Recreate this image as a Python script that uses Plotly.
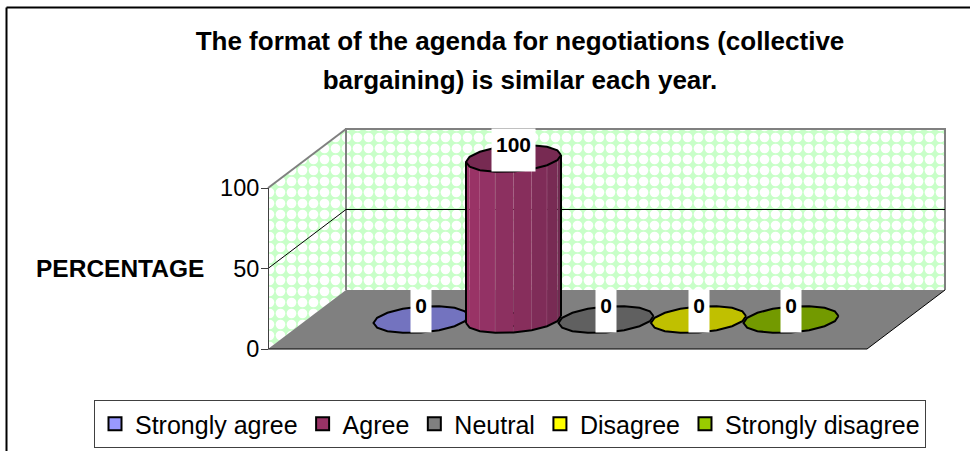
import math
import plotly.graph_objects as go

# ---- data ----
categories = ["Strongly agree", "Agree", "Neutral", "Disagree", "Strongly disagree"]
values = [0, 100, 0, 0, 0]
y_ticks = [0, 50, 100]
title_lines = ["The format of the agenda for negotiations (collective",
               "bargaining) is similar each year."]
y_label = "PERCENTAGE"

# ---- styles ----
legend_colors = ["#9999FF", "#993366", "#808080", "#FFFF00", "#99CC00"]
top_colors = ["#7373BF", "#772A52", "#606060", "#C0C000", "#739A00"]
facet_colors = ["#9C3567", "#993366", "#933265", "#8C3060", "#872E5C", "#7F2C58", "#782B54", "#702A50"]
FONT = "Liberation Sans, Arial, sans-serif"
W, H = 970, 451

# calibration of the oblique projection
PX_SLOT, PX_ORIGIN = 92.5, 382.0   # pixels per bar slot, pixel of slot 0 at front
PX_UNIT, PX_BASE = 1.61, 349.0     # pixels per percent, pixel of 0 %
DEPTH_X, DEPTH_Y = 78 / PX_SLOT, 59 / PX_UNIT
S_LEFT, S_RIGHT = (268 - PX_ORIGIN) / PX_SLOT, (867 - PX_ORIGIN) / PX_SLOT
Y_TOP = max(y_ticks)


def proj(s, v, d):
    return s + d * DEPTH_X, v + d * DEPTH_Y


def polygon(pts):
    xs, ys = zip(*pts)
    return list(xs) + [xs[0]], list(ys) + [ys[0]]


def rim(i, v, t):
    cx, cy = proj(i, v, 0.5)
    c = math.cos(t)
    return cx + 0.5135 * c, cy + 8.07 * math.sin(t) + 2.17 * c


def area(pts, fill, line=None, width=0, pattern=None):
    x, y = polygon(pts)
    return go.Scatter(x=x, y=y, mode="lines", fill="toself", fillcolor=fill,
                      fillpattern=pattern, showlegend=False, hoverinfo="skip",
                      line=dict(color=line or "rgba(0,0,0,0)", width=width))


def edge(pts, color, width):
    xs, ys = zip(*pts)
    return go.Scatter(x=list(xs), y=list(ys), mode="lines", showlegend=False,
                      hoverinfo="skip", line=dict(color=color, width=width))


fig = go.Figure()
pat = dict(shape=".", bgcolor="#C8FFC8", fgcolor="#FFFFFF", size=11, solidity=0.6, fillmode="replace")

# walls and floor
fig.add_trace(area([proj(S_LEFT, 0, 1), proj(S_RIGHT, 0, 1), proj(S_RIGHT, Y_TOP, 1), proj(S_LEFT, Y_TOP, 1)],
                   "#CCFFCC", pattern=pat))
fig.add_trace(area([proj(S_LEFT, 0, 0), proj(S_LEFT, 0, 1), proj(S_LEFT, Y_TOP, 1), proj(S_LEFT, Y_TOP, 0)],
                   "#CCFFCC", pattern=pat))
fig.add_trace(area([proj(S_LEFT, 0, 0), proj(S_RIGHT, 0, 0), proj(S_RIGHT, 0, 1), proj(S_LEFT, 0, 1)], "#808080"))
fig.add_trace(edge([proj(S_LEFT, 0, 1), proj(S_LEFT, Y_TOP, 1), proj(S_RIGHT, Y_TOP, 1), proj(S_RIGHT, 0, 1)], "#808080", 2))
fig.add_trace(edge([proj(S_LEFT, Y_TOP, 0), proj(S_LEFT, Y_TOP, 1)], "#808080", 2))
fig.add_trace(edge([proj(S_LEFT, 50, 0), proj(S_LEFT, 50, 1), proj(S_RIGHT, 50, 1)], "#000000", 1))
fig.add_trace(edge([proj(S_LEFT, 0, 0), proj(S_RIGHT, 0, 0), proj(S_RIGHT, 0, 1)], "#000000", 1))

# legend keys (hidden under the marks of each series)
for i, (name, v) in enumerate(zip(categories, values)):
    x0, y0 = proj(i, 0, 0.5)
    fig.add_trace(go.Scatter(x=[x0], y=[y0], mode="markers", name=name, hoverinfo="skip",
                             marker=dict(symbol="square", size=13, color=legend_colors[i],
                                         line=dict(color="#000000", width=2))))

# series, tallest last
STEPS = 16
for i in sorted(range(len(values)), key=lambda k: values[k]):
    v = values[i]
    ring = [2 * math.pi * k / STEPS for k in range(STEPS)]
    if v > 0:
        n = len(facet_colors)
        for k in range(n):
            t0, t1 = math.pi * (1 - k / n), math.pi * (1 - (k + 1) / n)
            # front half of the rim runs through negative sine
            fig.add_trace(area([rim(i, 0, -t0), rim(i, 0, -t1), rim(i, v, -t1), rim(i, v, -t0)],
                               facet_colors[k]))
            if k in (1, 2, 4, 5):
                fig.add_trace(edge([rim(i, 0, -t1), rim(i, v, -t1)], "rgba(205,140,175,0.4)", 1))
        fig.add_trace(edge([rim(i, v, math.pi), rim(i, 0, math.pi)], "#000000", 2))
        fig.add_trace(edge([rim(i, 0, -math.pi + math.pi * k / n) for k in range(n + 1)], "#000000", 2))
        fig.add_trace(edge([rim(i, v, 0), rim(i, 0, 0)], "#000000", 2))
    fig.add_trace(area([rim(i, v, t) for t in ring], top_colors[i], "#000000", 2))

# invisible trace that carries the value axis
fig.add_trace(go.Scatter(x=[proj(S_LEFT, 0, 0)[0]], y=[0], yaxis="y2", mode="markers", showlegend=False,
                         hoverinfo="skip", marker=dict(opacity=0)))

# value labels
annotations = []
for i, v in enumerate(values):
    cx, cy = proj(i, v, 0.5)
    annotations.append(dict(x=cx, y=cy, xref="x", yref="y", text=f"<b>{v}</b>", showarrow=False,
                            yanchor="top", xanchor="center", yshift=31, bgcolor="#FFFFFF",
                            width=35 if v else 12, height=34, valign="top", borderpad=4,
                            font=dict(family=FONT, size=21, color="#000000")))
annotations.append(dict(x=206 / W, y=1 - 268 / H, xref="paper", yref="paper", text=f"<b>{y_label}</b>",
                        showarrow=False, xanchor="right", yanchor="middle",
                        font=dict(family=FONT, size=24.5, color="#000000")))

title_html = "<br>".join(f'<span style="font-size:26px"><b>{t}</b></span>' for t in title_lines)

fig.update_layout(
    width=W, height=H, autosize=False, margin=dict(l=0, r=0, t=0, b=0, autoexpand=False),
    paper_bgcolor="#FFFFFF", plot_bgcolor="rgba(0,0,0,0)",
    title=dict(text=title_html, x=520 / W, xanchor="center", y=1 - 50 / H, yanchor="middle",
               font=dict(family=FONT, size=30, color="#000000")),
    xaxis=dict(range=[-PX_ORIGIN / PX_SLOT, (W - PX_ORIGIN) / PX_SLOT], visible=False, fixedrange=True),
    yaxis=dict(range=[-(H - PX_BASE) / PX_UNIT, PX_BASE / PX_UNIT], visible=False, fixedrange=True, domain=[0, 1]),
    yaxis2=dict(range=[0, Y_TOP], domain=[(H - PX_BASE) / H, (H - PX_BASE + Y_TOP * PX_UNIT) / H],
                anchor="free", position=268 / W, side="left", tickvals=y_ticks, ticks="outside",
                ticklen=7, tickcolor="#404040", tickwidth=1, showline=True, linecolor="#404040", linewidth=1,
                showgrid=False, zeroline=False, fixedrange=True, ticklabelstandoff=-3,
                tickfont=dict(family=FONT, size=23.5, color="#000000")),
    legend=dict(orientation="h", x=94 / W, xanchor="left", y=1 - 400 / H, yanchor="top",
                bgcolor="#FFFFFF", bordercolor="#404040", borderwidth=1,
                font=dict(family=FONT, size=25, color="#000000"), itemclick=False, itemdoubleclick=False),
    annotations=annotations,
    shapes=[dict(type="line", xref="paper", yref="paper", x0=6.5 / W, x1=1, y0=1 - 7.5 / H, y1=1 - 7.5 / H,
                 line=dict(color="#000000", width=2)),
            dict(type="line", xref="paper", yref="paper", x0=6.5 / W, x1=6.5 / W, y0=0, y1=1 - 7.5 / H,
                 line=dict(color="#000000", width=2))],
    hovermode=False, showlegend=True,
)
fig.write_html("out.html", config=dict(displayModeBar=False),
               post_script="document.body.style.margin='0';")
